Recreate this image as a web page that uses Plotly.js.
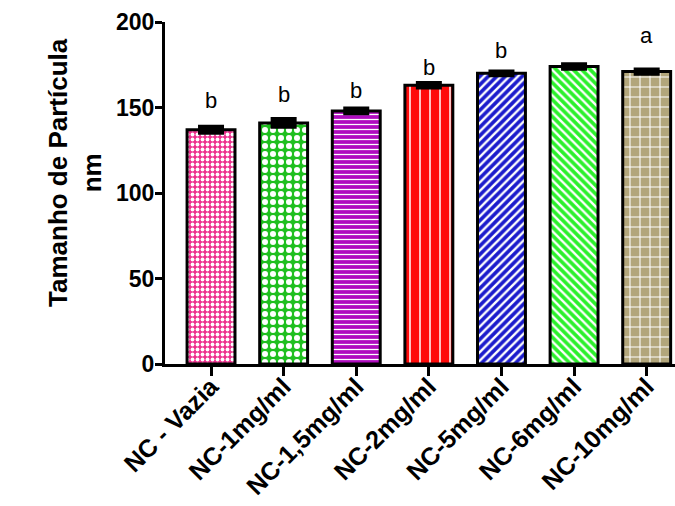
<!DOCTYPE html>
<html>
<head>
<meta charset="utf-8">
<script src="https://cdn.plot.ly/plotly-3.0.1.min.js"></script>
<style>
  html, body { margin: 0; padding: 0; background: #fff; }
  #chart { width: 675px; height: 506px; }
</style>
</head>
<body>
<div id="chart"></div>
<script>
// Particle size (nm) per nanocapsule formulation
const categories = ['NC - Vazia', 'NC-1mg/ml', 'NC-1,5mg/ml', 'NC-2mg/ml', 'NC-5mg/ml', 'NC-6mg/ml', 'NC-10mg/ml'];
const sizes = [137, 141, 148, 163, 170, 174, 171];
const errors = [1.2, 1.7, 0.8, 0.7, 0.5, 0.7, 0.7];
const groupLetters = ['b', 'b', 'b', 'b', 'b', '', 'a'];
const yTicks = [0, 50, 100, 150, 200];

// Fill style for each bar: base colour + white pattern
const barColors = ['#ee2f8d', '#1fbf1f', '#b00cbf', '#ff0a0a', '#1c1ccc', '#2cf02c', '#b2a67b'];
const patternShapes = ['.', '.', '-', '|', '/', '\\', '+'];
const patternSizes = [5, 8, 5, 10, 6, 6, 10];
const patternSolidity = [0.45, 0.45, 0.25, 0.15, 0.4, 0.4, 0.2];
const letterShift = [13, 11, 5, 2, 7, 0, 20];

const font = 'Liberation Sans, Arial, Helvetica, sans-serif';

const traces = categories.map((c, i) => ({
  type: 'bar',
  x: [c],
  y: [sizes[i]],
  width: 0.66,
  marker: {
    color: barColors[i],
    line: { color: '#000', width: 3 },
    pattern: {
      shape: patternShapes[i],
      bgcolor: barColors[i],
      fgcolor: '#ffffff',
      fgopacity: 1,
      size: patternSizes[i],
      solidity: patternSolidity[i],
      fillmode: 'replace'
    }
  },
  error_y: { type: 'data', array: [errors[i]], visible: true, color: '#000', thickness: 6, width: 13 },
  showlegend: false,
  hoverinfo: 'skip'
}));

const annotations = categories.map((c, i) => ({
  x: c,
  y: sizes[i] + errors[i],
  xref: 'x', yref: 'y',
  text: groupLetters[i],
  showarrow: false,
  yanchor: 'bottom',
  yshift: letterShift[i],
  font: { family: font, size: 22, color: '#000' }
})).filter(a => a.text !== '');

// y-axis title, two lines, rotated
annotations.push({
  xref: 'paper', yref: 'paper',
  x: 0, y: 0.5585,
  xanchor: 'center', yanchor: 'middle',
  xshift: -90,
  textangle: -90,
  showarrow: false,
  text: 'Tamanho de Partícula<br>nm',
  font: { family: font, size: 26, weight: 'bold', color: '#000' }
});

const layout = {
  width: 675,
  height: 506,
  margin: { l: 165, r: 0, t: 22, b: 142 },
  paper_bgcolor: '#fff',
  plot_bgcolor: '#fff',
  barmode: 'overlay',
  font: { family: font, color: '#000' },
  xaxis: {
    type: 'category',
    range: [-0.634, 6.39],
    showline: true, linewidth: 3, linecolor: '#000',
    ticks: 'outside', ticklen: 9, tickwidth: 3, tickcolor: '#000',
    tickangle: -45,
    ticklabelstandoff: -14,
    tickfont: { family: font, size: 25, weight: 'bold', color: '#000' },
    showgrid: false, zeroline: false, fixedrange: true, automargin: false
  },
  yaxis: {
    range: [0, 200],
    tickvals: yTicks,
    ticktext: yTicks.map(String),
    showline: true, linewidth: 3, linecolor: '#000',
    ticks: 'outside', ticklen: 7, tickwidth: 3, tickcolor: '#000',
    ticklabelstandoff: -4,
    tickfont: { family: font, size: 23, weight: 'bold', color: '#000' },
    showgrid: false, zeroline: false, fixedrange: true, automargin: false
  },
  annotations: annotations
};

Plotly.newPlot('chart', traces, layout, { displayModeBar: false, staticPlot: true });
</script>
</body>
</html>
